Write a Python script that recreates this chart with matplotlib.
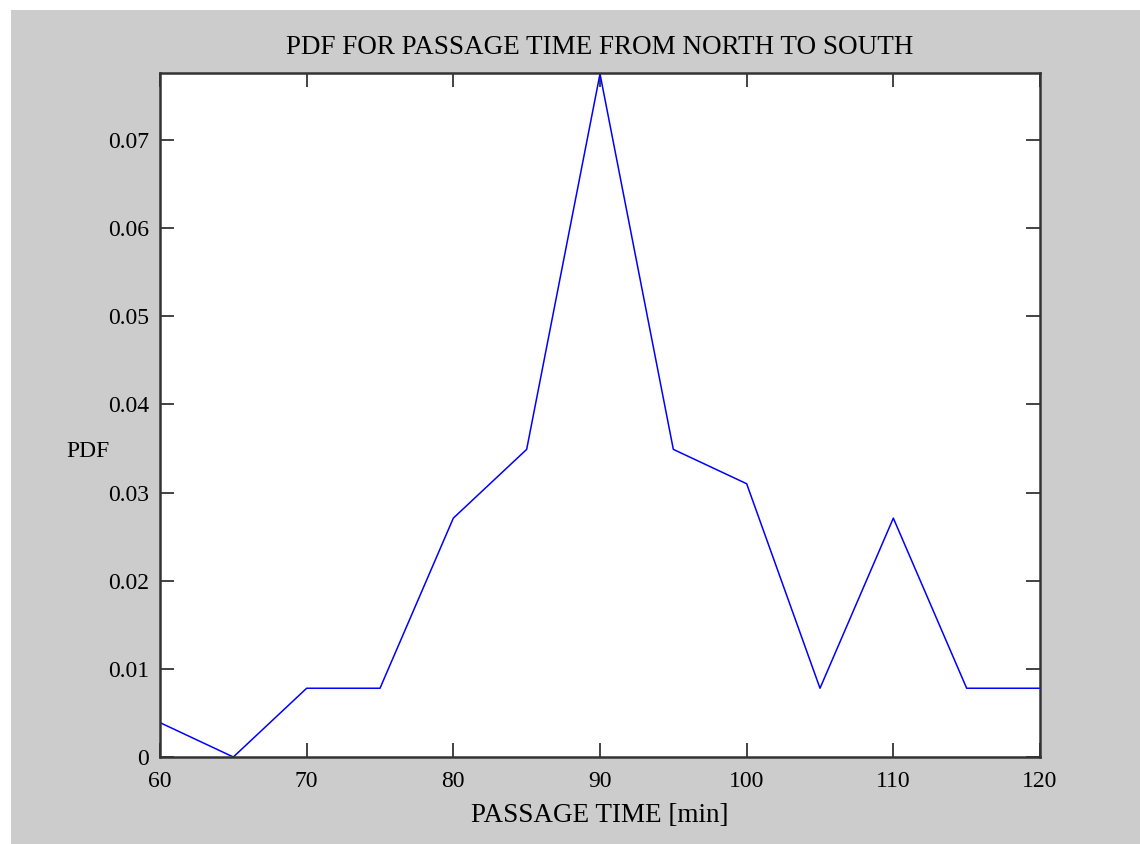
import matplotlib
matplotlib.use("Agg")
import matplotlib.pyplot as plt
from matplotlib.patches import Rectangle
from matplotlib.ticker import FuncFormatter

# passage time bins [min] and estimated pdf values
passage_time = [60, 65, 70, 75, 80, 85, 90, 95, 100, 105, 110, 115, 120]
pdf = [0.0039, 0.0, 0.0078, 0.0078, 0.0271, 0.0349, 0.0775,
       0.0349, 0.0310, 0.0078, 0.0271, 0.0078, 0.0078]
x_ticks = [60, 70, 80, 90, 100, 110, 120]
y_ticks = [0, 0.01, 0.02, 0.03, 0.04, 0.05, 0.06, 0.07]

plt.rcParams['font.family'] = ['Liberation Serif', 'DejaVu Serif']

fig = plt.figure(figsize=(11.4, 8.44), dpi=100, facecolor='white')
# grey matlab-like window background (thin white strip top/left)
fig.patches.append(Rectangle((11 / 1140, 0), 1, 834 / 844, transform=fig.transFigure,
                             facecolor='#cccccc', edgecolor='none', zorder=-1))

ax = fig.add_axes([160 / 1140, 87 / 844, 880 / 1140, 684 / 844])
ax.set_facecolor('white')
ax.plot(passage_time, pdf, color='#0000ff', linewidth=1.1)

ax.set_xlim(60, 120)
ax.set_ylim(0, 0.0776)
ax.set_xticks(x_ticks)
ax.set_yticks(y_ticks)
ax.yaxis.set_major_formatter(FuncFormatter(lambda v, p: '0' if v == 0 else f'{v:.2f}'))
ax.tick_params(direction='in', length=10, width=1.2, color='#222222',
               top=True, right=True, labelsize=17, pad=8)
ax.tick_params(axis='x', pad=10)
for s in ax.spines.values():
    s.set_linewidth(1.8)
    s.set_color('#333333')

ax.set_title('PDF FOR PASSAGE TIME FROM NORTH TO SOUTH', fontsize=19.5, pad=14)
ax.set_xlabel('PASSAGE TIME [min]', fontsize=19.5, labelpad=8)
ax.set_ylabel('PDF', fontsize=17, rotation=0, va='center', ha='center')
ax.yaxis.set_label_coords(-72 / 880, (757 - 452) / 684)

fig.savefig('out.png', dpi=100, facecolor=fig.get_facecolor())
